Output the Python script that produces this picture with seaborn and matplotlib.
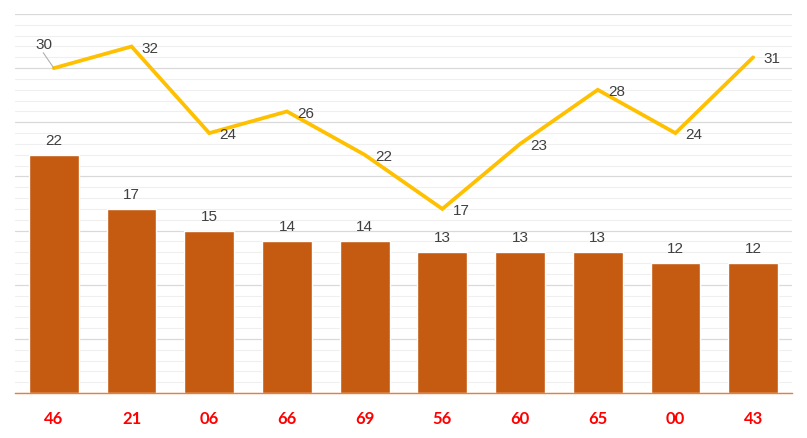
import matplotlib
matplotlib.use("Agg")
import matplotlib.pyplot as plt
import seaborn as sns
import pandas as pd
import numpy as np
from matplotlib.ticker import MultipleLocator

categories = ["46", "21", "06", "66", "69", "56", "60", "65", "00", "43"]
bar_values = [22, 17, 15, 14, 14, 13, 13, 13, 12, 12]
line_values = [30, 32, 24, 26, 22, 17, 23, 28, 24, 31]

df = pd.DataFrame({"cat": categories, "bar": bar_values, "line": line_values})

sns.set_theme(style="white")
plt.rcParams['font.family'] = ['Liberation Sans', 'DejaVu Sans']

fig = plt.figure(figsize=(8.07, 4.38), dpi=100)
ax = fig.add_axes([15/807, 1-393/438, (792-15)/807, (393-14)/438])

sns.barplot(data=df, x="cat", y="bar", color="#C55A11", saturation=1,
            width=0.64, ax=ax, zorder=3)
x = np.arange(len(categories))
ax.plot(x, df["line"], color="#FFC000", lw=2.7, zorder=4, solid_joinstyle='miter')

ax.set_xlim(-0.5, len(categories) - 0.5)
ax.set_ylim(0, 35)
ax.yaxis.set_major_locator(MultipleLocator(5))
ax.yaxis.set_minor_locator(MultipleLocator(1))
ax.grid(which="major", axis="y", color="#d9d9d9", lw=0.9, zorder=0)
ax.grid(which="minor", axis="y", color="#efefef", lw=0.8, zorder=0)
ax.set_axisbelow(True)

for s in ["top", "right", "left"]:
    ax.spines[s].set_visible(False)
ax.spines["bottom"].set_color("#ED7D31")
ax.spines["bottom"].set_linewidth(1.0)
ax.spines["bottom"].set_zorder(5)

ax.set_yticklabels([])
ax.tick_params(axis="y", length=0)
ax.set_xticks(x)
ax.set_xticklabels(categories, color="#FF0000", fontsize=12, fontweight="bold",
                   family=["Lato", "DejaVu Sans"])
ax.tick_params(axis="x", which="major", length=0, pad=13)
ax.set_xticks(np.arange(-0.5, len(categories) + 0.5, 1), minor=True)
ax.tick_params(axis="x", which="minor", length=6, color="#ED7D31", width=1.0, direction="out")
ax.set_xlabel("")
ax.set_ylabel("")

label_color = "#404040"
for i, v in enumerate(bar_values):
    ax.annotate(str(v), (i, v), xytext=(0, 5), textcoords="offset points",
                ha="center", va="bottom", fontsize=11, color=label_color, zorder=6)

for i, v in enumerate(line_values):
    if i == 0:
        ax.annotate(str(v), (i, v), xytext=(-7, 17), textcoords="offset points",
                    ha="center", va="center", fontsize=11, color=label_color, zorder=6,
                    arrowprops=dict(arrowstyle="-", color="#b0b0b0", lw=0.8,
                                    relpos=(0.4, 0.0), shrinkA=1, shrinkB=0,
                                    patchA=None))
    else:
        ax.annotate(str(v), (i, v), xytext=(13.5, -1.5), textcoords="offset points",
                    ha="center", va="center", fontsize=11, color=label_color, zorder=6)

fig.savefig("out.png", dpi=100)
